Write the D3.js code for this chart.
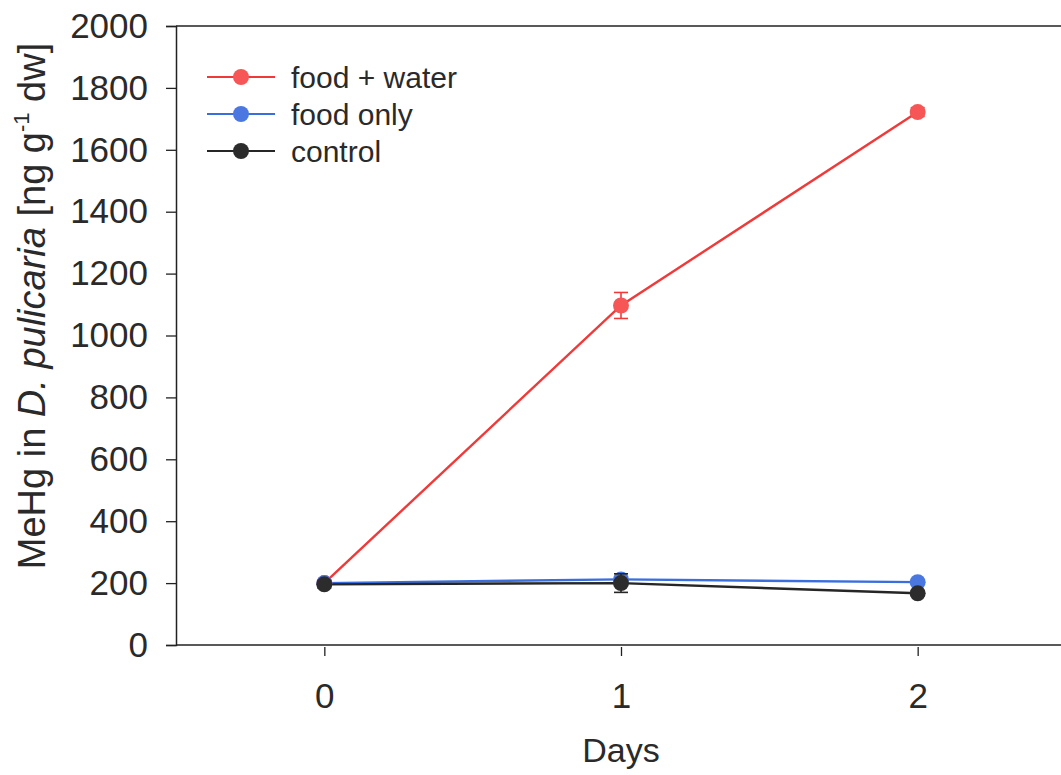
<!DOCTYPE html>
<html>
<head>
<meta charset="utf-8">
<script src="https://cdn.jsdelivr.net/npm/d3@7"></script>
<style>
  body { margin: 0; background: #fff; }
  text { font-family: "Liberation Sans", Arial, sans-serif; fill: #2a2a2a; }
</style>
</head>
<body>
<div id="chart"></div>
<script>
const days = [0, 1, 2];
const yTicks = [0, 200, 400, 600, 800, 1000, 1200, 1400, 1600, 1800, 2000];
const seriesNames = ['food + water', 'food only', 'control'];
const foodWater = [200, 1097, 1722];
const foodWaterErr = [8, 42, 14];
const foodOnly = [200, 212, 203];
const foodOnlyErr = [0, 0, 0];
const control = [196, 200, 167];
const controlErr = [12, 30, 8];

const width = 1061;
const height = 775;
const margin = { top: 26, right: -5, bottom: 130, left: 176 };
const innerWidth = width - margin.left - margin.right;
const innerHeight = height - margin.top - margin.bottom;

const series = [
  { name: seriesNames[0], values: foodWater, err: foodWaterErr, line: '#f03a3a', fill: '#f65656' },
  { name: seriesNames[1], values: foodOnly, err: foodOnlyErr, line: '#3a6ede', fill: '#4a78e0' },
  { name: seriesNames[2], values: control, err: controlErr, line: '#262626', fill: '#2c2c2c' },
];

const svg = d3.select('#chart')
  .append('svg')
  .attr('width', width)
  .attr('height', height)
  .append('g')
  .attr('transform', `translate(${margin.left},${margin.top})`);

const x = d3.scaleLinear().domain([-0.5, 2.5]).range([0, innerWidth]);
const y = d3.scaleLinear().domain([0, 2000]).range([innerHeight, 0]);

// frame: top line
svg.append('line')
  .attr('x1', 0).attr('x2', innerWidth + 10)
  .attr('y1', 0).attr('y2', 0)
  .attr('stroke', '#222').attr('stroke-width', 1.5);

// y-axis
const yAxis = svg.append('g')
  .call(d3.axisLeft(y).tickValues(yTicks).tickSize(10).tickPadding(18).tickFormat(d3.format('d')));
yAxis.select('.domain').attr('stroke', '#222').attr('stroke-width', 1.5);
yAxis.selectAll('.tick line').attr('stroke', '#222').attr('stroke-width', 1.3);
yAxis.selectAll('.tick text')
  .attr('font-family', null).attr('font-size', null)
  .style('font-size', '35px').attr('fill', '#2a2a2a');

// x-axis
svg.append('line')
  .attr('x1', 0).attr('x2', innerWidth + 10)
  .attr('y1', innerHeight).attr('y2', innerHeight)
  .attr('stroke', '#222').attr('stroke-width', 1.5);
const xAxis = svg.append('g')
  .attr('transform', `translate(0,${innerHeight + 2})`)
  .call(d3.axisBottom(x).tickValues(days).tickSize(9).tickPadding(27).tickFormat(d3.format('d')));
xAxis.select('.domain').remove();
xAxis.selectAll('.tick line').attr('stroke', '#222').attr('stroke-width', 1.3);
xAxis.selectAll('.tick text')
  .attr('font-family', null).attr('font-size', null)
  .style('font-size', '35px').attr('fill', '#2a2a2a');

// axis titles
svg.append('text')
  .attr('x', x(1))
  .attr('y', innerHeight + 117)
  .attr('text-anchor', 'middle')
  .style('font-size', '34px')
  .text('Days');

const yTitle = svg.append('text')
  .attr('transform', `translate(${-131},${280}) rotate(-90)`)
  .attr('text-anchor', 'middle')
  .style('font-size', '38px');
yTitle.append('tspan').text('MeHg in ');
yTitle.append('tspan').style('font-style', 'italic').text('D. pulicaria');
yTitle.append('tspan').text(' [ng g');
yTitle.append('tspan').attr('dy', -16).style('font-size', '22px').text('-1');
yTitle.append('tspan').attr('dy', 16).text(' dw]');

// lines, error bars, markers
const line = d3.line().x((d, i) => x(days[i])).y((d) => y(d));

series.forEach((s) => {
  svg.append('path')
    .datum(s.values)
    .attr('fill', 'none')
    .attr('stroke', s.line)
    .attr('stroke-width', 2.4)
    .attr('d', line);
});

series.forEach((s) => {
  const g = svg.append('g');
  s.values.forEach((v, i) => {
    if (!s.err[i]) return;
    const cx = x(days[i]);
    [v + s.err[i], v - s.err[i]].forEach((e) => {
      g.append('line')
        .attr('x1', cx).attr('x2', cx)
        .attr('y1', y(v)).attr('y2', y(e))
        .attr('stroke', s.line).attr('stroke-width', 1.6);
      g.append('line')
        .attr('x1', cx - 7).attr('x2', cx + 7)
        .attr('y1', y(e)).attr('y2', y(e))
        .attr('stroke', s.line).attr('stroke-width', 1.6);
    });
  });
  g.selectAll('circle')
    .data(s.values)
    .enter()
    .append('circle')
    .attr('cx', (d, i) => x(days[i]))
    .attr('cy', (d) => y(d))
    .attr('r', 8)
    .attr('fill', s.fill);
});

// legend
const legend = svg.append('g').attr('transform', 'translate(31,51)');
series.forEach((s, i) => {
  const row = legend.append('g').attr('transform', `translate(0,${i * 37})`);
  row.append('line')
    .attr('x1', 0).attr('x2', 68)
    .attr('y1', 0).attr('y2', 0)
    .attr('stroke', s.line).attr('stroke-width', 2);
  row.append('circle').attr('cx', 34).attr('cy', 0).attr('r', 8).attr('fill', s.fill);
  row.append('text')
    .attr('x', 84).attr('y', 0).attr('dy', '0.35em')
    .style('font-size', '30px')
    .text(s.name);
});
</script>
</body>
</html>
